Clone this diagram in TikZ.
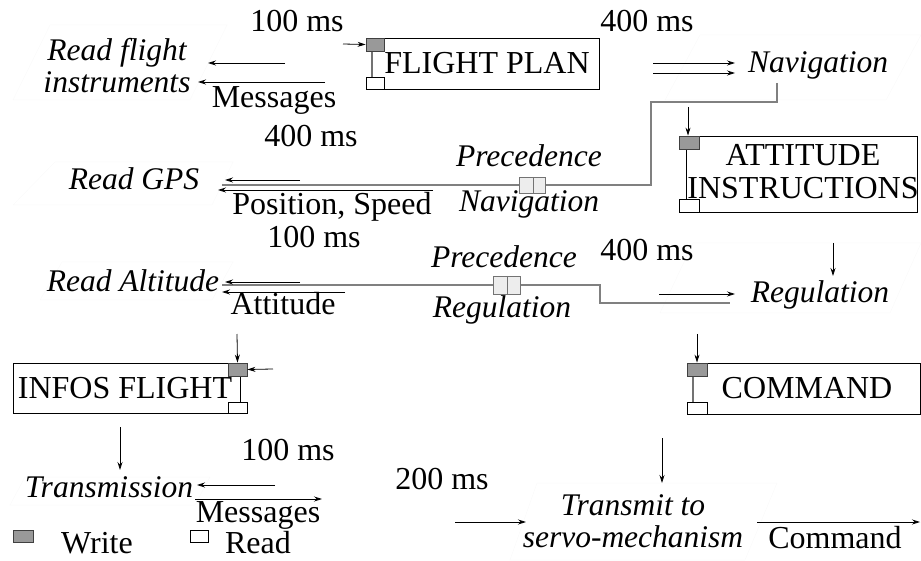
\documentclass[tikz,border=0pt]{standalone}
\usepackage{fontspec}
\setmainfont{Liberation Serif}
\usetikzlibrary{arrows.meta}
\newcommand\fsz{\fontsize{32}{33}\selectfont}
\newcommand\fszi{\fontsize{31.5}{32}\selectfont}
\tikzset{
  txt/.style={font=\fsz, inner sep=0pt, anchor=base},
  task/.style={font=\fszi\itshape, inner sep=0pt, align=center},
  itxt/.style={font=\fszi\itshape, inner sep=0pt, anchor=base},
  databox/.style={draw=black, line width=0.9pt, inner sep=0pt, font=\fsz, align=center},
  wsq/.style={draw=black!75, fill=black!40, line width=0.8pt, inner sep=0pt},
  rsq/.style={draw=black, fill=white, line width=0.8pt, inner sep=0pt},
  arr/.style={-{Stealth[length=8pt,width=5pt]}, line width=0.8pt},
  precline/.style={draw=black!50, line width=1.6pt},
  pbox/.style={draw=black!55, fill=black!7, line width=0.8pt, inner sep=0pt, minimum height=16pt},
  ghost/.style={draw=black!2, line width=0.5pt}
}
\begin{document}
\begin{tikzpicture}[x=1pt,y=-1pt]
\useasboundingbox (0,0) rectangle (921,561);

% faint task outlines
\draw[ghost] (13,100) -- (50,25) -- (227,25) -- (190,100) -- cycle;
\draw[ghost] (665,100) -- (700,35) -- (921,35) -- (886,100) -- cycle;
\draw[ghost] (13,205) -- (55,162) -- (233,162) -- (212,205) -- cycle;
\draw[ghost] (40,300) -- (62,262) -- (233,262) -- (212,300) -- cycle;
\draw[ghost] (660,313) -- (693,243) -- (921,243) -- (890,313) -- cycle;
\draw[ghost] (10,505) -- (25,477) -- (210,477) -- (195,505) -- cycle;
\draw[ghost] (510,560) -- (537,483) -- (777,483) -- (745,560) -- cycle;

% data boxes
\node[databox, minimum width=227pt, minimum height=51pt] (fp) at (485.5,63.5) {};
\node[txt] (fpt) at (487,74) {FLIGHT PLAN};
\draw[black!55, line width=1.2pt] (372,38) -- (372,89);
\node[wsq, minimum width=18pt, minimum height=13pt] (fpw) at (375,44.5) {};
\node[rsq, minimum width=18pt, minimum height=12pt] (fpr) at (375,83) {};

\node[databox, minimum width=231pt, minimum height=76pt] (ai) at (801.5,174) {};
\node[font=\fsz, inner sep=0pt, align=center] (ait) at (803,172) {ATTITUDE\\INSTRUCTIONS};
\draw[black, line width=0.9pt] (686,136) -- (686,212);
\node[wsq, minimum width=20pt, minimum height=13pt] (aiw) at (689,142.5) {};
\node[rsq, minimum width=20pt, minimum height=13pt] (air) at (689,205.5) {};

\node[databox, minimum width=227pt, minimum height=50pt] (if) at (126.5,388) {};
\node[txt] (ift) at (125,398) {INFOS FLIGHT};
\draw[black, line width=0.9pt] (240,363) -- (240,413);
\node[wsq, minimum width=19pt, minimum height=13pt] (ifw) at (237.5,369.5) {};
\node[rsq, minimum width=19pt, minimum height=11pt] (ifr) at (237.5,407.5) {};

\node[databox, minimum width=227pt, minimum height=51pt] (cm) at (806.5,388.5) {};
\node[txt] (cmt) at (807,398) {COMMAND};
\draw[black!55, line width=1.2pt] (693,363) -- (693,414);
\node[wsq, minimum width=20pt, minimum height=13pt] (cmw) at (697,369.5) {};
\node[rsq, minimum width=20pt, minimum height=12pt] (cmr) at (697,408) {};

% tasks
\node[task] (rfi) at (117,66) {Read flight\\instruments};
\node[itxt] (nav) at (818,73) {Navigation};
\node[itxt] (gps) at (134,190) {Read GPS};
\node[itxt] (alt) at (133,292) {Read Altitude};
\node[itxt] (reg) at (820,303) {Regulation};
\node[itxt] (trm) at (109,497) {Transmission};
\node[task] (srv) at (633,521) {Transmit to\\servo-mechanism};

% labels
\node[txt] (t1) at (297,32) {100 ms};
\node[txt] (t2) at (647,32) {400 ms};
\node[txt] (m1) at (274,108) {Messages};
\node[txt] (t3) at (311,147) {400 ms};
\node[txt] (ps) at (332,215) {Position, Speed};
\node[txt] (t4) at (314,248) {100 ms};
\node[txt] (at) at (283,315) {Attitude};
\node[txt] (t5) at (647,261) {400 ms};
\node[txt] (t6) at (288,460) {100 ms};
\node[txt] (m2) at (258,522) {Messages};
\node[txt] (t7) at (442,489) {200 ms};
\node[txt] (cmd) at (835,548) {Command};
\node[itxt] (pr1) at (529,167) {Precedence};
\node[itxt] (pn1) at (529,212) {Navigation};
\node[itxt] (pr2) at (504,268) {Precedence};
\node[itxt] (pn2) at (502,318) {Regulation};

% precedence links
\coordinate (n1) at (777,83);
\coordinate (n2) at (651,185);
\coordinate (n3) at (222,185);
\draw[precline] (n1) -- (777,102) -- (651,102) -- (n2) -- (n3);
\node[pbox, minimum width=26pt] (pb1) at (532.5,185) {};
\draw[black!55, line width=0.8pt] (533,177) -- (533,193);
\coordinate (r1) at (222,285);
\coordinate (r2) at (730,303);
\draw[precline] (r1) -- (600,285) -- (600,303) -- (r2);
\node[pbox, minimum width=27pt, minimum height=18pt] (pb2) at (506.5,285) {};
\draw[black!55, line width=0.8pt] (507,276) -- (507,294);

% arrows
\coordinate (a1s) at (285,63);  \coordinate (a1e) at (208,63);
\coordinate (a2s) at (325,82);  \coordinate (a2e) at (198,82);
\coordinate (a3s) at (343,44);
\draw[arr] (a1s) -- (a1e);
\draw[arr] (a2s) -- (a2e);
\draw[arr] (a3s) -- (fpw.west);
\coordinate (a4s) at (653,63); \coordinate (a4e) at (735,63);
\coordinate (a5s) at (653,73); \coordinate (a5e) at (735,73);
\draw[arr] (a4s) -- (a4e);
\draw[arr] (a5s) -- (a5e);
\coordinate (a6s) at (688,107);
\draw[arr] (a6s) -- (aiw.north -| a6s);
\coordinate (a7s) at (300,180); \coordinate (a7e) at (225,180);
\coordinate (a8s) at (433,190); \coordinate (a8e) at (218,190);
\draw[arr] (a7s) -- (a7e);
\draw[arr] (a8s) -- (a8e);
\coordinate (a9s) at (300,282); \coordinate (a9e) at (225,282);
\coordinate (a10s) at (345,292); \coordinate (a10e) at (222,292);
\draw[arr] (a9s) -- (a9e);
\draw[arr] (a10s) -- (a10e);
\coordinate (a11s) at (659,294); \coordinate (a11e) at (735,294);
\draw[arr] (a11s) -- (a11e);
\coordinate (a12s) at (833,243); \coordinate (a12e) at (833,276);
\draw[arr] (a12s) -- (a12e);
\coordinate (a13s) at (237,334);
\draw[arr] (a13s) -- (ifw.north);
\coordinate (a14s) at (273,369);
\draw[arr] (a14s) -- (ifw.east);
\coordinate (a15s) at (697,334);
\draw[arr] (a15s) -- (cmw.north);
\coordinate (a16s) at (120,427); \coordinate (a16e) at (120,470);
\draw[arr] (a16s) -- (a16e);
\coordinate (a17s) at (275,485); \coordinate (a17e) at (197,485);
\coordinate (a18s) at (195,499); \coordinate (a18e) at (322,499);
\draw[arr] (a17s) -- (a17e);
\draw[arr] (a18s) -- (a18e);
\coordinate (a19s) at (455,522); \coordinate (a19e) at (526,522);
\draw[arr] (a19s) -- (a19e);
\coordinate (a20s) at (662,438); \coordinate (a20e) at (662,483);
\draw[arr] (a20s) -- (a20e);
\coordinate (a21s) at (757,522); \coordinate (a21e) at (920,522);
\draw[arr] (a21s) -- (a21e);

% legend
\node[wsq, minimum width=20pt, minimum height=12pt] (lw) at (23,536) {};
\node[txt] (lwt) at (97,553) {Write};
\node[rsq, minimum width=18pt, minimum height=12pt] (lr) at (199,536) {};
\node[txt] (lrt) at (258,553) {Read};
\end{tikzpicture}
\end{document}
